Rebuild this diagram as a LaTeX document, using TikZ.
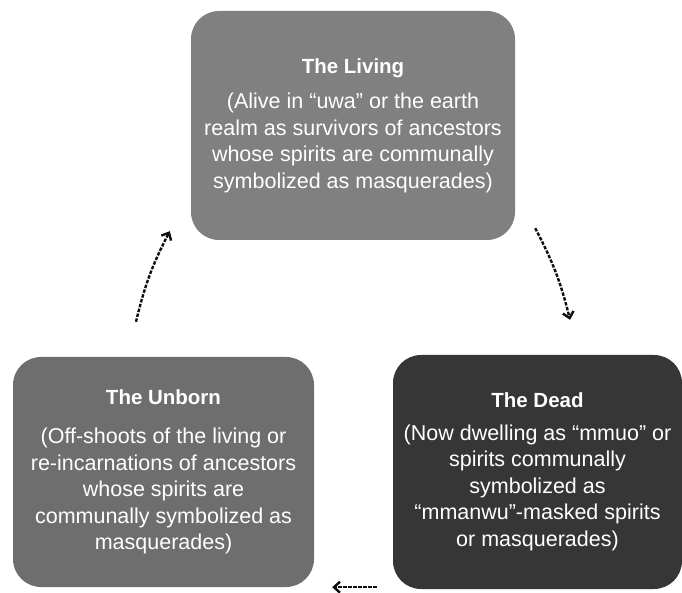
\documentclass[tikz,border=0pt]{standalone}
\usepackage{fontspec}
\setmainfont{Liberation Sans}
\usepackage{tikz}
\usetikzlibrary{arrows.meta,positioning,calc}
\definecolor{cyLiving}{RGB}{128,128,128}
\definecolor{cyUnborn}{RGB}{110,110,110}
\definecolor{cyDead}{RGB}{54,54,54}
\definecolor{cyInk}{RGB}{15,15,15}
\tikzset{
    cyBoxBase/.style={
        rectangle,
        rounded corners=28pt,
        text=white,
        align=center,
        inner sep=0pt,
        font=\fontsize{21.5}{26.5}\selectfont
    },
    % Stages of the cycle
    living/.style={cyBoxBase, fill=cyLiving, minimum width=324pt, minimum height=229pt},
    unborn/.style={cyBoxBase, fill=cyUnborn, minimum width=301pt, minimum height=230pt},
    dead/.style={cyBoxBase, fill=cyDead, minimum width=289pt, minimum height=234pt},
    % Arrows
    cyArrow/.style={-{Straight Barb[length=6pt,width=11pt,line width=2.4pt]}, line width=2.4pt,
        dash pattern=on 3.5pt off 1.5pt, draw=cyInk}
}
\newcommand{\cyTitle}[1]{{\fontsize{20.5}{24}\selectfont\bfseries #1}}

\begin{document}
\begin{tikzpicture}[x=1pt, y=1pt]
\useasboundingbox (0,0) rectangle (682,592);
\node[living] (liv) at (353,466.5) {\cyTitle{The Living}\\[9pt]
    (Alive in “uwa” or the earth\\
    realm as survivors of ancestors\\
    whose spirits are communally\\
    symbolized as masquerades)};
\node[unborn] (unb) at (163.5,120) {\cyTitle{The Unborn}\\[13pt]
    (Off-shoots of the living or\\
    re-incarnations of ancestors\\
    whose spirits are\\
    communally symbolized as\\
    masquerades)};
\node[dead] (dead) at (537.5,120) {\cyTitle{The Dead}\\[6pt]
    (Now dwelling as “mmuo” or\\
    spirits communally\\
    symbolized as\\
    “mmanwu”-masked spirits\\
    or masquerades)};
% arrow ends, kept clear of the boxes
\coordinate (unbOut) at ($(unb.north)+(-27.5,35)$);
\coordinate (livIn) at ($(liv.south west)+(-21,9)$);
\coordinate (livOut) at ($(liv.south east)+(20,12)$);
\coordinate (deadIn) at ($(dead.north)+(32.5,35)$);
\coordinate (deadOut) at ($(dead.south west)+(-16,2)$);
\coordinate (unbIn) at ($(unb.south east)+(18,0)$);
\draw[cyArrow] (unbOut) to[bend left=7] (livIn);
\draw[cyArrow] (livOut) to[bend left=7] (deadIn);
\draw[cyArrow] (deadOut) -- (unbIn);
\end{tikzpicture}
\end{document}
